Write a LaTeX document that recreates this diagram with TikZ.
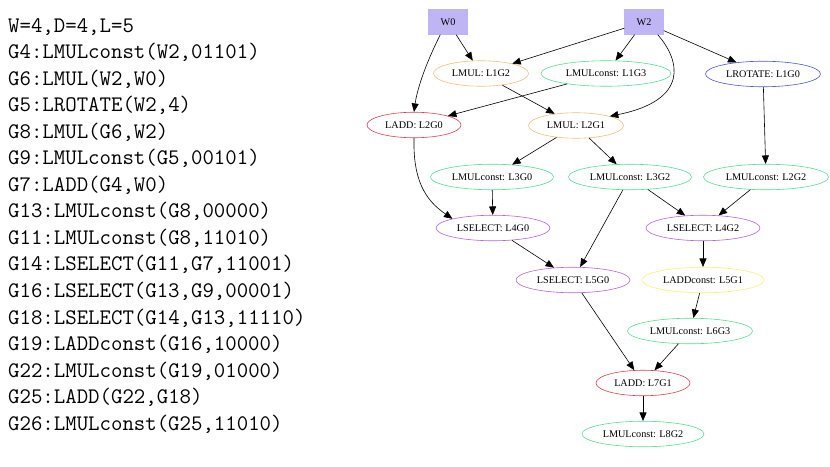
\documentclass[tikz,border=0pt]{standalone}
\usepackage{fontspec}
\newfontfamily\gvfont{Liberation Serif}
\usetikzlibrary{arrows.meta,shapes.geometric}
\definecolor{wfill}{HTML}{BFB5F5}
\definecolor{cor}{HTML}{F2BE7C}
\definecolor{cgr}{HTML}{4FE092}
\definecolor{cbl}{HTML}{4A58D8}
\definecolor{crd}{HTML}{E0404E}
\definecolor{cpu}{HTML}{B463E0}
\definecolor{cye}{HTML}{F5F56A}
\tikzset{
  code/.style={anchor=base west,inner sep=0pt,font=\fontsize{22.2}{26.6}\selectfont\ttfamily},
  gv/.style={ellipse,draw,line width=0.6pt,inner sep=0pt,minimum height=25.5pt,font=\gvfont\fontsize{10.2}{12}\selectfont},
  inbox/.style={rectangle,fill=wfill,draw=wfill,minimum width=39pt,minimum height=25pt,inner sep=0pt,font=\gvfont\fontsize{10.2}{12}\selectfont},
  gedge/.style={-{Triangle[length=8.5pt,width=7pt]},line width=0.6pt,black},
}
\begin{document}
\begin{tikzpicture}[x=1pt,y=-1pt]
\useasboundingbox (0,0) rectangle (830,466);
\foreach \t [count=\i] in {{W=4,D=4,L=5},{G4:LMULconst(W2,01101)},{G6:LMUL(W2,W0)},{G5:LROTATE(W2,4)},{G8:LMUL(G6,W2)},{G9:LMULconst(G5,00101)},{G7:LADD(G4,W0)},{G13:LMULconst(G8,00000)},{G11:LMULconst(G8,11010)},{G14:LSELECT(G11,G7,11001)},{G16:LSELECT(G13,G9,00001)},{G18:LSELECT(G14,G13,11110)},{G19:LADDconst(G16,10000)},{G22:LMULconst(G19,01000)},{G25:LADD(G22,G18)},{G26:LMULconst(G25,11010)}}
  \node[code] (c\i) at (8,{32+26.55*(\i-1)}) {\t};

\node[inbox] (W0) at (448,22) {W0};
\node[inbox] (W2) at (644,22) {W2};
\node[gv,draw=cor,minimum width=95pt] (L1G2) at (481,73.5) {LMUL: L1G2};
\node[gv,draw=cgr,minimum width=130pt] (L1G3) at (606,73.5) {LMULconst: L1G3};
\node[gv,draw=cbl,minimum width=115pt] (L1G0) at (763,74) {LROTATE: L1G0};
\node[gv,draw=crd,minimum width=94pt] (L2G0) at (414,125) {LADD: L2G0};
\node[gv,draw=cor,minimum width=95pt] (L2G1) at (576,125.5) {LMUL: L2G1};
\node[gv,draw=cgr,minimum width=123pt] (L3G0) at (492,177) {LMULconst: L3G0};
\node[gv,draw=cgr,minimum width=123pt] (L3G2) at (630,177) {LMULconst: L3G2};
\node[gv,draw=cgr,minimum width=125pt] (L2G2) at (766,177) {LMULconst: L2G2};
\node[gv,draw=cpu,minimum width=114pt] (L4G0) at (493,228) {LSELECT: L4G0};
\node[gv,draw=cpu,minimum width=114pt] (L4G2) at (703,228) {LSELECT: L4G2};
\node[gv,draw=cpu,minimum width=114pt] (L5G0) at (573,280) {LSELECT: L5G0};
\node[gv,draw=cye,minimum width=122pt] (L5G1) at (703,280) {LADDconst: L5G1};
\node[gv,draw=cgr,minimum width=125pt] (L6G3) at (690,331) {LMULconst: L6G3};
\node[gv,draw=crd,minimum width=94pt] (L7G1) at (643,383) {LADD: L7G1};
\node[gv,draw=cgr,minimum width=122pt] (L8G2) at (643,434) {LMULconst: L8G2};

\draw[gedge] (W0) -- (L1G2);
\draw[gedge] (W0.south west) ++(12,0) coordinate (w0a) .. controls (425,65) and (417,90) .. (L2G0.north);
\draw[gedge] (W2) -- (L1G2);
\draw[gedge] (W2) -- (L1G3);
\draw[gedge] (W2.south east) ++(-6,0) coordinate (w2a) .. controls (680,60) and (690,100) .. (L2G1.north east);
\draw[gedge] (W2) -- (L1G0);
\draw[gedge] (L1G3) -- (L2G0);
\draw[gedge] (L1G2) -- (L2G1);
\draw[gedge] (L2G1) -- (L3G0);
\draw[gedge] (L2G1) -- (L3G2);
\draw[gedge] (L1G0) -- (L2G2);
\draw[gedge] (L2G0.south) .. controls (413,180) and (425,200) .. (L4G0.north west);
\draw[gedge] (L3G0) -- (L4G0);
\draw[gedge] (L3G2) -- (L4G2);
\draw[gedge] (L2G2) -- (L4G2);
\draw[gedge] (L3G2) -- (L5G0);
\draw[gedge] (L4G0) -- (L5G0);
\draw[gedge] (L4G2) -- (L5G1);
\draw[gedge] (L5G1) -- (L6G3);
\draw[gedge] (L5G0) -- (L7G1);
\draw[gedge] (L6G3) -- (L7G1);
\draw[gedge] (L7G1) -- (L8G2);
\end{tikzpicture}
\end{document}
